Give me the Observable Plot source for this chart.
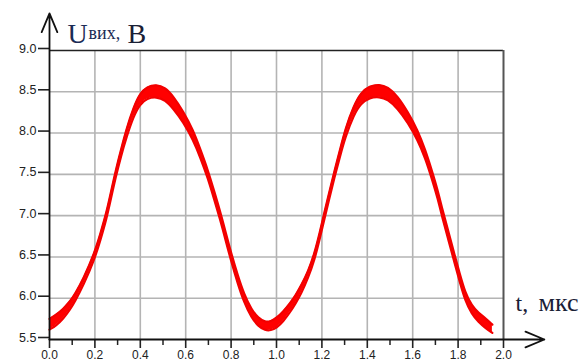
<!DOCTYPE html>
<html>
<head>
<meta charset="utf-8">
<script src="https://cdn.jsdelivr.net/npm/d3@7"></script>
<script src="https://cdn.jsdelivr.net/npm/@observablehq/plot@0.6"></script>
<style>
  html, body { margin: 0; padding: 0; background: #fff; }
  #chart svg { display: block; }
</style>
</head>
<body>
<div id="chart"></div>
<script>
// time, µs
const t = [0.00,0.03,0.06,0.09,0.112,0.15,0.197,0.225,0.251,0.271,0.291,0.315,0.339,0.37,0.398,0.43,0.47,0.51,0.544,0.59,0.632,0.665,0.698,0.725,0.752,0.776,0.800,0.83,0.857,0.89,0.92,0.95,0.975,1.00,1.03,1.06,1.085,1.108,1.14,1.167,1.19,1.211,1.233,1.255,1.28,1.303,1.34,1.372,1.41,1.453,1.49,1.533,1.58,1.621,1.655,1.684,1.71,1.731,1.757,1.782,1.808,1.831,1.86,1.89,1.92,1.951];
// upper edge of the trace band, V
const vHigh = [5.75,5.80,5.87,5.96,6.05,6.24,6.54,6.79,7.04,7.29,7.54,7.80,8.05,8.31,8.48,8.56,8.59,8.55,8.45,8.26,8.04,7.80,7.55,7.30,7.05,6.80,6.55,6.27,6.05,5.86,5.76,5.71,5.72,5.76,5.84,5.94,6.04,6.15,6.33,6.54,6.79,7.04,7.29,7.54,7.80,8.05,8.33,8.49,8.57,8.59,8.56,8.45,8.25,8.04,7.80,7.55,7.31,7.07,6.81,6.55,6.29,6.07,5.91,5.82,5.76,5.68];
// lower edge of the trace band, V
const vLow = [5.62,5.67,5.75,5.86,5.96,6.16,6.46,6.71,6.96,7.21,7.46,7.72,7.95,8.20,8.35,8.42,8.44,8.40,8.30,8.13,7.92,7.70,7.45,7.20,6.95,6.70,6.45,6.17,5.95,5.76,5.66,5.61,5.61,5.64,5.72,5.83,5.94,6.05,6.25,6.46,6.71,6.96,7.21,7.46,7.72,7.95,8.22,8.36,8.43,8.44,8.41,8.30,8.12,7.92,7.70,7.45,7.21,6.97,6.71,6.45,6.19,5.97,5.81,5.71,5.64,5.58];

const xTicks = [0.0,0.2,0.4,0.6,0.8,1.0,1.2,1.4,1.6,1.8,2.0];
const xMinorTicks = [0.1,0.3,0.5,0.7,0.9,1.1,1.3,1.5,1.7,1.9];
const yTicks = [5.5,6.0,6.5,7.0,7.5,8.0,8.5,9.0];
const xGrid = [0.2,0.4,0.6,0.8,1.0,1.2,1.4,1.6,1.8];
const yGrid = [6.0,6.5,7.0,7.5,8.0,8.5];
const axisArrows = [
  {x1: 0, y1: 5.5, x2: 0, y2: 9.45},
  {x1: 0, y1: 5.5, x2: 2.18, y2: 5.5}
];

const data = t.map((d, i) => ({t: d, hi: vHigh[i], lo: vLow[i]}));

const chart = Plot.plot({
  width: 584,
  height: 361,
  marginLeft: 49,
  marginRight: 81,
  marginTop: 50,
  marginBottom: 22,
  style: {background: "#fff", fontFamily: "Liberation Sans, Arial, sans-serif", overflow: "visible"},
  x: {domain: [0, 2]},
  y: {domain: [5.5, 9.0]},
  marks: [
    Plot.gridX(xGrid, {stroke: "#b4b4b4", strokeOpacity: 1, strokeWidth: 1.6}),
    Plot.gridY(yGrid, {stroke: "#b4b4b4", strokeOpacity: 1, strokeWidth: 1.6}),
    Plot.ruleY([9.0], {stroke: "#222", strokeWidth: 1.6}),
    Plot.ruleX([2.0], {stroke: "#555", strokeWidth: 2}),
    Plot.areaY(data, {x: "t", y1: "lo", y2: "hi", fill: "#ff0000", curve: "basis"}),
    Plot.line(data, {x: "t", y: "hi", stroke: "#f20000", strokeWidth: 2.2, curve: "basis"}),
    Plot.line(data, {x: "t", y: "lo", stroke: "#f20000", strokeWidth: 2.2, curve: "basis"}),
    Plot.axisX({ticks: xMinorTicks, tickSize: 6, tickFormat: () => "", stroke: "#222", strokeWidth: 1.5}),
    Plot.axisX({ticks: xTicks, tickSize: 9, tickPadding: 2, tickFormat: d => d.toFixed(1), fontSize: 12, stroke: "#222", strokeWidth: 1.6, fill: "#222"}),
    Plot.axisY({ticks: yTicks, tickSize: 11, tickPadding: 2, tickFormat: d => d.toFixed(1), fontSize: 12.5, dy: -2, stroke: "#222", strokeWidth: 1.6, fill: "#222"}),
    Plot.arrow(axisArrows, {x1: "x1", y1: "y1", x2: "x2", y2: "y2", stroke: "#111", strokeWidth: 1.8, headLength: 17, headAngle: 45}),
    Plot.text(["U"], {frameAnchor: "top-left", dx: 18, dy: -27, textAnchor: "start", fontSize: 28, fontFamily: "Liberation Serif", fill: "#1a2b55"}),
    Plot.text(["вих,"], {frameAnchor: "top-left", dx: 39, dy: -24, textAnchor: "start", fontSize: 18, fontFamily: "Liberation Serif", fill: "#1a2b55"}),
    Plot.text(["B"], {frameAnchor: "top-left", dx: 78, dy: -27, textAnchor: "start", fontSize: 28, fontFamily: "Liberation Serif", fill: "#1a2035"}),
    Plot.text(["t,"], {frameAnchor: "bottom-right", dx: 12, dy: -29, textAnchor: "start", fontSize: 24, fontFamily: "Liberation Serif", fill: "#1a2035"}),
    Plot.text(["мкс"], {frameAnchor: "bottom-right", dx: 35, dy: -29, textAnchor: "start", fontSize: 26, fontFamily: "Liberation Serif", fill: "#1a2035"})
  ]
});

document.getElementById("chart").appendChild(chart);
</script>
</body>
</html>
